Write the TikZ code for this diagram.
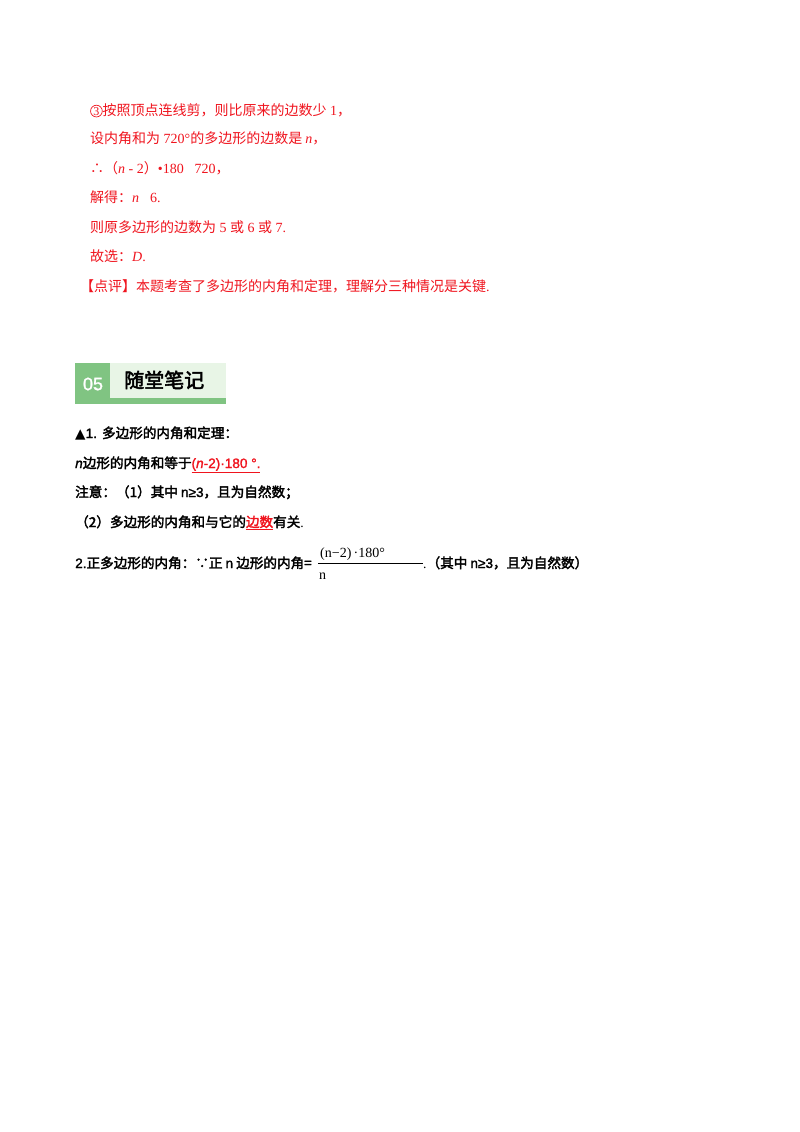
\documentclass[tikz,border=0pt]{standalone}
\usepackage{fontspec}
\setmainfont{Liberation Serif}
\newfontfamily\cjk{Noto Sans CJK SC}
\newfontfamily\cjkb{Noto Sans CJK SC}[FakeBold=2.5]
\newfontfamily\sfb{Liberation Sans}[FakeBold=1.5]
\newfontfamily\djv{DejaVu Sans}
\newcommand{\rmi}[1]{{\rmfamily\itshape #1}}
\newcommand{\rmn}[1]{{\rmfamily #1}}
\newcommand{\circnum}[1]{\tikz[baseline=(c.base)]\node[draw=rd,circle,inner sep=0.6pt,line width=0.7pt,font=\rmfamily\fontsize{12}{12}\selectfont](c){#1};}
\definecolor{rd}{RGB}{240,20,30}
\definecolor{gdark}{RGB}{128,196,130}
\definecolor{glight}{RGB}{232,245,230}
\tikzset{redline/.style={anchor=base west,inner sep=0,text=rd,font=\fontsize{14}{14}\selectfont\cjk},
blk/.style={anchor=base west,inner sep=0,font=\fontsize{13.6}{14}\selectfont\cjkb}}
\begin{document}
\begin{tikzpicture}[x=1pt,y=-1pt]
\useasboundingbox (0,0) rectangle (800,1132);
\fill[white] (0,0) rectangle (800,1132);
% red solution
\node[redline] (l1) at (90,115) {\circnum{3}按照顶点连线剪，则比原来的边数少\rmn{ 1}，};
\node[redline] (l2) at (90,143) {设内角和为\rmn{ 720°}的多边形的边数是 \rmi{n}，};
\node[redline] (l3) at (90,173) {∴（\rmi{n}\rmn{ - 2}）\rmn{•180＝720}，};
\node[redline] (l4) at (90,202) {解得：\rmi{n}\rmn{＝6.}};
\node[redline] (l5) at (90,232) {则原多边形的边数为\rmn{ 5 }或\rmn{ 6 }或\rmn{ 7.}};
\node[redline] (l6) at (90,261) {故选：\rmi{D}\rmn{.}};
\node[redline] (l7) at (80,291) {【点评】本题考查了多边形的内角和定理，理解分三种情况是关键\rmn{.}};
% header
\fill[glight] (75,363) rectangle (226,403);
\fill[gdark] (75,363) rectangle (110,403);
\fill[gdark] (75,398) rectangle (226,404);
\node[anchor=center,text=white,font=\fontsize{18}{18}\selectfont\sfb] (h1) at (93,384) {05};
\node[anchor=west,inner sep=0,font=\fontsize{20}{20}\selectfont\cjkb] (h2) at (124,380) {随堂笔记};
% notes
\node[blk] (b1) at (75,438) {{\djv ▲}{\sfb 1. }多边形的内角和定理：};
\node[blk] (b2) at (75,468) {{\sfb\itshape n}边形的内角和等于\textcolor{rd}{\underline{\sfb(\textit{n}-2)·180 °.}}};
\node[blk] (b3) at (75,497) {注意：（1）其中 {\sfb n≥3}，且为自然数；};
\node[blk] (b4) at (75,527) {（2）多边形的内角和与它的\textcolor{rd}{\underline{边数}}有关{\rmfamily .}};
\node[blk] (b5) at (75,568) {{\sfb 2.}正多边形的内角：∵正 {\sfb n} 边形的内角={}};
\coordinate (fs) at (318,563);
\coordinate (fe) at (423,563);
\draw[line width=0.6pt] (fs) -- (fe);
\node[anchor=base west,inner sep=0,font=\fontsize{14}{14}\selectfont] (num) at (320,557) {(n−2)\,·180°};
\node[anchor=base west,inner sep=0,font=\fontsize{14}{14}\selectfont] (den) at (319,579) {n};
\node[blk] (b6) at (423,568) {{\rmfamily .}（其中 {\sfb n≥3}，且为自然数）};
\end{tikzpicture}
\end{document}
